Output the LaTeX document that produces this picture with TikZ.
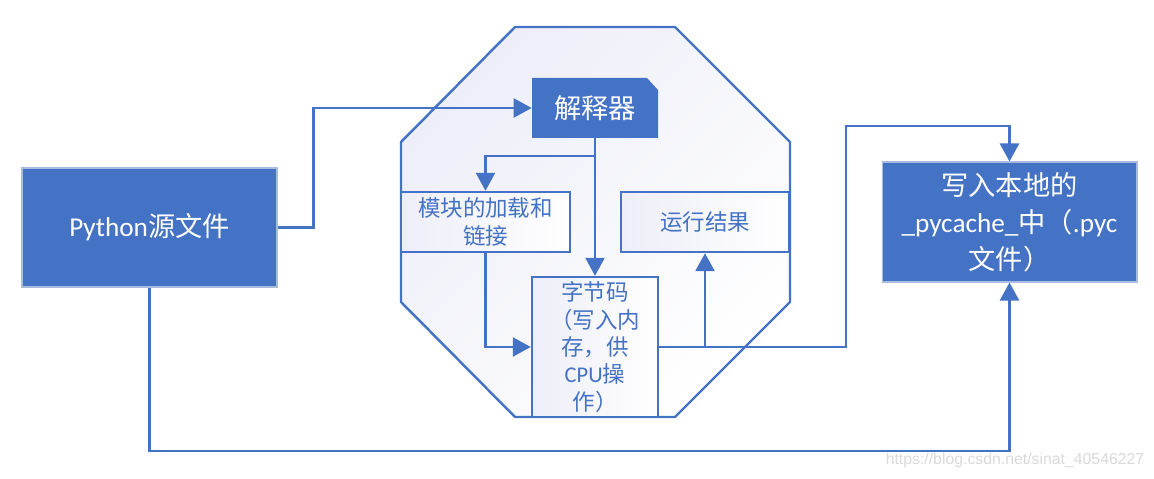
\documentclass[tikz,border=0pt]{standalone}
\usepackage{fontspec}
\setmainfont{Noto Sans CJK SC}
\newfontfamily\lat{Carlito}
\newfontfamily\wm{Liberation Sans}
\usetikzlibrary{arrows.meta}

\definecolor{mainblue}{HTML}{4472C4}
\definecolor{edgeblue}{HTML}{A9BCE0}
\definecolor{lav}{HTML}{EDEEF8}

\tikzset{
  bluebox/.style={rectangle, fill=mainblue, draw=edgeblue, line width=0.6pt,
    text=white, align=center, inner sep=0pt},
  whitebox/.style={rectangle, draw=mainblue, line width=1.4pt, left color=lav,
    right color=white, text=mainblue, align=center, inner sep=0pt,
    font=\fontsize{12.8}{16}\selectfont},
  arr/.style={draw=mainblue, line width=1.4pt,
    -{Triangle[length=0.36cm, width=0.38cm]}},
  ln/.style={draw=mainblue, line width=1.4pt}
}

\begin{document}
\begin{tikzpicture}[x=0.02cm, y=-0.02cm]
        \useasboundingbox (0,0) rectangle (1154,479);

        % Draw the octagon
        \draw[mainblue, line width=1.4pt, left color=lav, right color=white, shading angle=45]
          (515,27) -- (675,27) -- (790,142) -- (790,302) -- (675,417)
          -- (515,417) -- (401,302) -- (401,142) -- cycle;

        % Dog-eared box behind the interpreter
        \fill[mainblue] (532,78) -- (647,78) -- (658,90) -- (658,138) -- (532,138) -- cycle;

        % Nodes
        \node[bluebox, minimum width=5.1cm, minimum height=2.38cm,
          font=\fontsize{15.5}{21}\selectfont] (py) at (149.5,227.5) {{\lat Python}源文件};
        \node[minimum width=2.52cm, minimum height=1.2cm, inner sep=0pt, text=white,
          font=\fontsize{15.5}{21}\selectfont] (jsq) at (595,108) {解释器};
        \node[whitebox, minimum width=3.38cm, minimum height=1.2cm] (mk) at (485.5,222) {模块的加载和\\链接};
        \node[whitebox, minimum width=3.36cm, minimum height=1.2cm] (yx) at (705,222) {运行结果};
        \node[whitebox, minimum width=2.52cm, minimum height=2.8cm,
          font=\fontsize{12.8}{15.6}\selectfont] (zj) at (595,347)
          {字节码\\（写入内\\存，供\\{\lat CPU}操\\作）};
        \node[bluebox, minimum width=5.1cm, minimum height=2.4cm,
          font=\fontsize{15.5}{21}\selectfont] (xr) at (1009.5,222)
          {写入本地的\\{\lat \_pycache\_}中（{\lat .pyc}\\文件）};

        % Branch points
        \coordinate (b1) at (595,156);
        \coordinate (b2) at (yx.south |- zj.east);

        % Draw connectors
        \draw[arr] (py.east) -- ++(36,0) |- (jsq.west);
        \draw[arr] (jsq.south) -- (zj.north);
        \draw[arr] (b1) -| (mk.north);
        \draw[arr] (mk.south) |- (zj.west);
        \draw[arr] (b2) -- (yx.south);
        \draw[arr] (zj.east) -| (846,126) -| (xr.north);
        \draw[arr] (py.south) -- (py.south |- 0,451) -| (xr.south);

        % Watermark
        \node[text=gray!30, font=\wm\fontsize{9}{10}\selectfont] (wmk) at (1015,460)
          {https://blog.csdn.net/sinat\_40546227};
    \end{tikzpicture}
\end{document}
